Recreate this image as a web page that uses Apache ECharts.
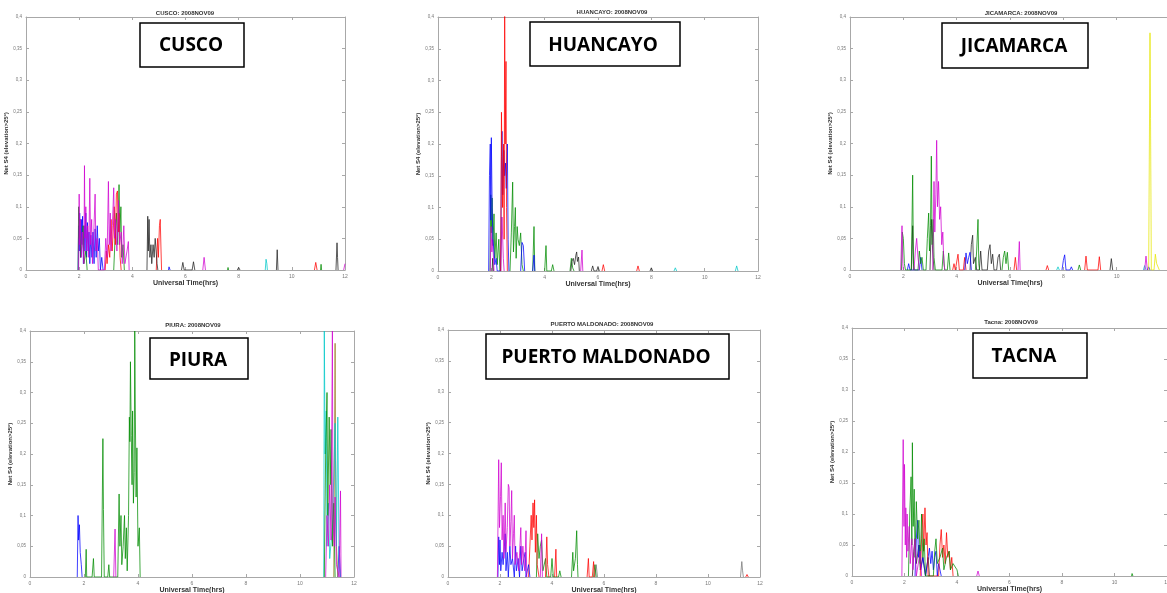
<!DOCTYPE html>
<html><head><meta charset="utf-8">
<script src="https://cdn.jsdelivr.net/npm/echarts@6/dist/echarts.min.js"></script>
<style>html,body{margin:0;padding:0;background:#fff}#c{width:1167px;height:593px}</style>
</head><body><div id="c"></div>
<script>
// ---- tick labels ----
const xTickLabels = ['0','2','4','6','8','10','12'];
const yTickLabels = ['0','0,05','0,1','0,15','0,2','0,25','0,3','0,35','0,4'];
const titles = ['CUSCO: 2008NOV09','HUANCAYO: 2008NOV09','JICAMARCA: 2008NOV09','PIURA: 2008NOV09','PUERTO MALDONADO: 2008NOV09','Tacna: 2008NOV09'];
const stations = ['CUSCO','HUANCAYO','JICAMARCA','PIURA','PUERTO MALDONADO','TACNA'];

// ---- CUSCO [UT hrs, S4] ----
const cuscoBlue = [[1.96,0],[1.98,0.07],[2.0,0.03],[2.02,0.09],[2.05,0.02],[2.08,0.08],[2.1,0.04],[2.13,0.085],[2.16,0.01],[2.19,0.07],[2.22,0.03],[2.25,0.09],[2.28,0.02],[2.31,0.075],[2.34,0.03],[2.37,0.06],[2.4,0.01],[2.44,0.055],[2.48,0.02],[2.52,0.06],[2.56,0.01],[2.6,0.065],[2.64,0.02],[2.68,0.07],[2.72,0.03],[2.76,0.05],[2.8,0],[2.85,0.02],[2.9,0],[5.0,null],[5.36,0],[5.38,0.005],[5.42,0]];
const cuscoMagenta = [[1.98,0],[2.0,0.12],[2.02,0.04],[2.05,0.08],[2.08,0.02],[2.12,0.06],[2.18,0.01],[2.2,0.165],[2.22,0.05],[2.25,0.1],[2.28,0.03],[2.32,0.07],[2.36,0.02],[2.4,0.145],[2.43,0.04],[2.47,0.08],[2.5,0.01],[2.55,0.06],[2.6,0.12],[2.63,0.03],[2.68,0.05],[2.72,0],[2.95,0],[3.0,0.05],[3.05,0.02],[3.1,0.14],[3.13,0.04],[3.17,0.09],[3.2,0.03],[3.25,0.07],[3.3,0.13],[3.33,0.05],[3.37,0.08],[3.42,0.03],[3.48,0.11],[3.52,0.04],[3.58,0.06],[3.62,0.01],[3.68,0.07],[3.72,0.01],[3.8,0.03],[3.85,0.045],[3.88,0],[6.0,null],[6.65,0],[6.7,0.02],[6.72,0.023],[6.75,0],[11.0,null],[11.95,0],[12,0.01]];
const cuscoGreen = [[1.96,0],[1.98,0.1],[2.0,0.05],[2.03,0.08],[2.06,0.02],[2.1,0.04],[2.15,0.07],[2.18,0.01],[2.25,0.03],[2.3,0],[3.0,null],[3.3,0],[3.35,0.05],[3.4,0.09],[3.45,0.04],[3.5,0.135],[3.53,0.06],[3.57,0.1],[3.6,0.02],[3.65,0.04],[3.7,0],[7.0,null],[7.58,0],[7.6,0.004],[7.62,0],[9.0,null],[11.08,0],[11.1,0.009],[11.12,0]];
const cuscoRed = [[2.98,0],[3.02,0.03],[3.05,0.01],[3.1,0.04],[3.15,0.02],[3.2,0.08],[3.24,0.03],[3.28,0.06],[3.32,0.1],[3.36,0.04],[3.4,0.12],[3.44,0.125],[3.47,0.06],[3.5,0.09],[3.54,0.02],[3.58,0],[4.5,null],[4.9,0],[4.95,0.05],[4.98,0.02],[5.02,0.07],[5.05,0.08],[5.08,0.03],[5.1,0],[8,null],[10.85,0],[10.9,0.012],[10.95,0]];
const cuscoBlack = [[4.55,0],[4.58,0.085],[4.6,0.03],[4.63,0.08],[4.66,0.02],[4.7,0.04],[4.73,0.01],[4.78,0.04],[4.82,0.02],[4.86,0.05],[4.9,0.05],[4.93,0.01],[4.96,0],[5.5,null],[5.85,0],[5.9,0.012],[5.95,0],[6.25,0],[6.3,0.013],[6.35,0],[7.5,null],[7.95,0],[8.0,0.004],[8.05,0],[9.0,null],[9.42,0],[9.45,0.032],[9.48,0],[10,null],[11.66,0],[11.7,0.043],[11.72,0.02],[11.74,0]];
const cuscoCyan = [[9.0,0],[9.03,0.017],[9.06,0.01],[9.08,0]];

// ---- HUANCAYO ----
const huancayoRed = [[2.35,0],[2.38,0.25],[2.42,0.1],[2.46,0.2],[2.48,0.05],[2.5,0.42],[2.52,0.2],[2.55,0.33],[2.57,0.1],[2.6,0],[5.0,null],[6.15,0],[6.2,0.01],[6.25,0],[7.0,null],[7.45,0],[7.5,0.008],[7.55,0]];
const huancayoBlue = [[1.9,0],[1.93,0.15],[1.96,0.2],[1.98,0.08],[2.0,0.21],[2.03,0.1],[2.06,0.05],[2.1,0.03],[2.13,0.01],[2.18,0.02],[2.22,0],[2.35,0],[2.38,0.18],[2.4,0.22],[2.43,0.12],[2.47,0.19],[2.5,0.15],[2.53,0.17],[2.56,0.13],[2.6,0.2],[2.63,0.05],[2.66,0],[3.0,null],[3.1,0],[3.15,0.045],[3.2,0.04],[3.25,0],[3.4,null],[3.55,0],[3.6,0.025],[3.63,0]];
const huancayoGreen = [[1.95,0],[1.98,0.12],[2.0,0.06],[2.03,0.115],[2.06,0.04],[2.1,0.09],[2.13,0.02],[2.18,0.06],[2.22,0.01],[2.28,0.05],[2.32,0],[2.5,null],[2.7,0],[2.75,0.06],[2.8,0.14],[2.83,0.03],[2.87,0.07],[2.9,0.1],[2.93,0.02],[2.97,0.07],[3.0,0.05],[3.05,0.04],[3.1,0.06],[3.15,0.01],[3.2,0],[3.4,null],[3.55,0],[3.6,0.07],[3.63,0],[3.8,null],[4.0,0],[4.05,0.04],[4.08,0],[4.25,0],[4.3,0.01],[4.35,0],[4.6,null],[4.95,0],[5.0,0.02],[5.05,0.005],[5.1,0]];
const huancayoMagenta = [[1.96,0],[1.99,0.07],[2.02,0.03],[2.05,0.05],[2.1,0],[2.2,null],[2.35,0],[2.4,0.085],[2.45,0.02],[2.48,0],[4.0,null],[5.35,0],[5.4,0.033],[5.43,0]];
const huancayoBlack = [[2.03,0],[2.05,0.02],[2.08,0],[3.0,null],[4.98,0],[5.02,0.015],[5.07,0.02],[5.12,0.01],[5.17,0.025],[5.2,0.03],[5.23,0.015],[5.27,0.022],[5.3,0],[5.5,null],[5.75,0],[5.8,0.008],[5.85,0],[5.95,0],[6.0,0.007],[6.05,0],[7.0,null],[7.95,0],[8.0,0.005],[8.05,0]];
const huancayoCyan = [[8.85,0],[8.9,0.005],[8.95,0],[10.0,null],[11.15,0],[11.2,0.008],[11.25,0]];

// ---- JICAMARCA ----
const jicamarcaGreen = [[1.93,0],[1.96,0.06],[2.0,0.05],[2.04,0.01],[2.08,0],[2.3,0],[2.35,0.15],[2.38,0.01],[2.42,0],[2.55,0],[2.6,0.03],[2.65,0.01],[2.7,0.02],[2.75,0],[2.85,0],[2.9,0.05],[2.95,0.09],[2.98,0.03],[3.02,0.07],[3.05,0.18],[3.08,0.04],[3.12,0.08],[3.15,0.02],[3.2,0],[3.45,0],[3.5,0.03],[3.55,0],[3.65,0],[3.7,0.027],[3.75,0],[4.0,null],[4.7,0],[4.75,0.03],[4.8,0.08],[4.83,0.01],[4.86,0],[5.2,null],[5.7,0],[5.75,0.02],[5.8,0.03],[5.85,0.01],[5.9,0.028],[5.95,0],[7.0,null],[8.55,0],[8.6,0.008],[8.65,0]];
const jicamarcaMagenta = [[1.9,0],[1.95,0.07],[1.98,0.01],[2.0,0],[2.2,null],[2.4,0],[2.45,0.03],[2.5,0.05],[2.55,0.02],[2.6,0],[2.8,null],[3.1,0],[3.15,0.14],[3.18,0.06],[3.22,0.12],[3.25,0.205],[3.28,0.1],[3.32,0.14],[3.36,0.08],[3.4,0.1],[3.44,0.04],[3.48,0.06],[3.52,0.01],[3.56,0],[5.0,null],[6.3,0],[6.35,0.045],[6.38,0],[8.0,null],[11.05,0],[11.1,0.022],[11.15,0]];
const jicamarcaBlack = [[2.3,0],[2.35,0.07],[2.38,0],[2.6,null],[3.0,0],[3.05,0.08],[3.1,0.03],[3.15,0],[4.0,null],[4.5,0],[4.55,0.04],[4.6,0.055],[4.63,0.01],[4.7,0.02],[4.75,0],[4.85,0],[4.9,0.03],[4.95,0],[5.15,0],[5.2,0.03],[5.25,0.04],[5.3,0.01],[5.35,0.025],[5.4,0],[5.5,0],[5.55,0.02],[5.6,0.025],[5.65,0],[7.0,null],[9.75,0],[9.8,0.018],[9.85,0]];
const jicamarcaRed = [[3.85,0],[3.9,0.01],[3.95,0],[4.0,0],[4.05,0.025],[4.1,0],[4.25,0],[4.3,0.02],[4.35,0],[5.0,null],[6.15,0],[6.2,0.02],[6.25,0],[7.0,null],[7.35,0],[7.4,0.007],[7.45,0],[8.0,null],[8.8,0],[8.85,0.022],[8.9,0],[9.3,0],[9.35,0.021],[9.4,0],[10.0,null],[11.95,0],[12.0,0.005]];
const jicamarcaBlue = [[2.15,0],[2.2,0.01],[2.25,0],[2.6,0],[2.65,0.02],[2.7,0],[3.5,null],[4.3,0],[4.35,0.027],[4.4,0.01],[4.45,0.02],[4.5,0.028],[4.55,0],[6.0,null],[7.95,0],[8.0,0.015],[8.05,0.024],[8.1,0],[8.25,0],[8.3,0.005],[8.35,0],[9.0,null],[11.15,0],[11.2,0.005],[11.25,0]];
const jicamarcaCyan = [[7.75,0],[7.8,0.005],[7.85,0],[9.0,null],[11.0,0],[11.05,0.007],[11.1,0]];
const jicamarcaYellow = [[11.2,0],[11.25,0.375],[11.27,0.24],[11.3,0],[11.4,0],[11.45,0.025],[11.5,0.01],[11.55,0.012],[11.6,0]];

// ---- PIURA ----
const piuraBlue = [[1.75,0],[1.78,0.1],[1.8,0.06],[1.83,0.085],[1.86,0.04],[1.9,0.02],[1.93,0],[5.0,null],[11.4,0],[11.45,0.05],[11.5,0]];
const piuraGreen = [[2.05,0],[2.08,0.045],[2.1,0],[2.3,0],[2.35,0.03],[2.38,0],[2.65,0],[2.7,0.225],[2.72,0.11],[2.75,0],[2.88,0],[2.92,0.02],[2.95,0],[3.25,0],[3.3,0.135],[3.33,0.05],[3.37,0.1],[3.4,0.02],[3.45,0.05],[3.5,0.1],[3.53,0.03],[3.57,0.08],[3.6,0.01],[3.65,0.1],[3.68,0.26],[3.7,0.22],[3.72,0.35],[3.75,0.23],[3.78,0.15],[3.8,0.27],[3.83,0.12],[3.86,0.17],[3.88,0.4],[3.9,0.27],[3.93,0.13],[3.96,0.21],[4.0,0.05],[4.05,0.08],[4.08,0],[6.0,null],[10.9,0],[10.95,0.2],[11.0,0.3],[11.03,0.1],[11.08,0.26],[11.12,0.15],[11.15,0.24],[11.2,0.05],[11.25,0.12],[11.3,0]];
const piuraMagenta = [[3.1,0],[3.15,0.078],[3.18,0],[6.0,null],[10.95,0],[11.0,0.1],[11.05,0.05],[11.1,0.15],[11.15,0.06],[11.2,0.4],[11.22,0.1],[11.27,0.05],[11.3,0.13],[11.35,0.02],[11.45,0],[11.5,0.14],[11.52,0]];
const piuraCyan = [[10.88,0],[10.9,0.4],[10.93,0.2],[10.97,0.27],[11.0,0.05],[11.05,0.12],[11.1,0.03],[11.2,0.08],[11.3,0.25],[11.35,0.05],[11.4,0.26],[11.45,0.02],[11.5,0]];
const piuraOlive = [[11.25,0],[11.3,0.38],[11.32,0.19],[11.35,0.05],[11.4,0]];

// ---- PUERTO MALDONADO ----
const puertoMagenta = [[1.9,0],[1.95,0.19],[1.98,0.08],[2.02,0.13],[2.05,0.185],[2.08,0.06],[2.12,0.1],[2.15,0.03],[2.2,0.12],[2.23,0.04],[2.28,0.08],[2.32,0.15],[2.35,0.145],[2.38,0.05],[2.42,0.09],[2.45,0.14],[2.48,0.03],[2.52,0.07],[2.55,0.1],[2.58,0.02],[2.65,0.04],[2.72,0.01],[2.8,0.08],[2.83,0.02],[2.88,0.05],[2.95,0.01],[3.0,0.075],[3.03,0],[3.3,null],[3.55,0],[3.6,0.07],[3.63,0]];
const puertoBlue = [[1.92,0],[1.95,0.065],[1.98,0.02],[2.0,0.06],[2.03,0.01],[2.08,0.04],[2.12,0.02],[2.17,0.05],[2.2,0.07],[2.23,0.01],[2.28,0.04],[2.32,0],[2.38,0.05],[2.42,0.02],[2.48,0.03],[2.55,0],[2.6,0.05],[2.63,0.01],[2.7,0.03],[2.75,0],[2.8,0.05],[2.85,0.01],[2.92,0.03],[2.97,0.04],[3.0,0],[3.1,0.02],[3.15,0]];
const puertoRed = [[3.1,0],[3.15,0.05],[3.2,0.1],[3.23,0.06],[3.27,0.12],[3.3,0.08],[3.33,0.125],[3.36,0.04],[3.4,0.1],[3.43,0.02],[3.5,0],[3.6,null],[3.75,0],[3.8,0.065],[3.83,0.02],[3.88,0],[4.0,null],[4.1,0],[4.15,0.045],[4.18,0],[5.0,null],[5.35,0],[5.4,0.03],[5.43,0],[5.55,0],[5.6,0.025],[5.63,0],[8.0,null],[11.45,0],[11.5,0.004],[11.55,0]];
const puertoGreen = [[3.4,0],[3.45,0.07],[3.5,0.03],[3.55,0.05],[3.6,0.06],[3.65,0.01],[3.75,0.03],[3.8,0],[3.95,0],[4.0,0.03],[4.05,0],[4.25,0],[4.3,0.01],[4.35,0],[4.5,null],[4.75,0],[4.8,0.04],[4.83,0.01],[4.9,0.03],[4.95,0.075],[4.98,0.02],[5.0,0],[5.3,null],[5.6,0],[5.65,0.02],[5.7,0]];
const puertoGray = [[5.65,0],[5.7,0.02],[5.75,0],[8.0,null],[11.25,0],[11.3,0.025],[11.33,0.01],[11.36,0]];

// ---- TACNA ----
const tacnaMagenta = [[1.9,0],[1.95,0.22],[1.98,0.08],[2.0,0.18],[2.03,0.05],[2.05,0.11],[2.08,0.03],[2.1,0.1],[2.13,0.04],[2.18,0.08],[2.22,0.02],[2.28,0.06],[2.32,0.01],[2.4,0.06],[2.45,0],[2.6,0.04],[2.65,0],[3.5,null],[4.75,0],[4.8,0.008],[4.85,0]];
const tacnaGreen = [[2.15,0],[2.2,0.1],[2.25,0.16],[2.28,0.05],[2.3,0.215],[2.33,0.08],[2.37,0.14],[2.4,0.03],[2.45,0.12],[2.5,0.06],[2.55,0.09],[2.6,0.02],[2.65,0.1],[2.7,0.03],[2.75,0.06],[2.8,0],[3.1,0],[3.15,0.04],[3.2,0.06],[3.25,0.02],[3.35,0.03],[3.45,0.045],[3.5,0.01],[3.6,0.03],[3.7,0.04],[3.75,0.01],[3.85,0.02],[4.0,0.01],[4.05,0],[6.0,null],[10.65,0],[10.67,0.004],[10.7,0]];
const tacnaRed = [[2.6,0],[2.65,0.06],[2.7,0.1],[2.73,0.04],[2.78,0.11],[2.82,0.05],[2.86,0.07],[2.9,0],[3.3,0],[3.35,0.05],[3.4,0.075],[3.45,0.03],[3.5,0.05],[3.55,0.02],[3.6,0.07],[3.65,0.03],[3.7,0.04],[3.75,0.01],[3.8,0.03],[3.85,0]];
const tacnaBlue = [[2.4,0],[2.45,0.06],[2.5,0.09],[2.53,0.03],[2.58,0.05],[2.62,0.01],[2.7,0.03],[2.8,0],[2.9,0.03],[2.95,0.045],[3.0,0.02],[3.05,0.04],[3.1,0.01],[3.15,0.03],[3.2,0.04],[3.25,0],[3.3,0.02],[3.4,0]];
const tacnaBlack = [[2.3,0],[2.35,0.04],[2.4,0.06],[2.45,0.02],[2.55,0.05],[2.6,0.01],[2.7,0.03],[2.8,0],[2.9,0.03],[2.95,0]];

// ---- styles / layout ----
const COL = {blue:'#0000ff', green:'#008c00', red:'#ff0000', magenta:'#d000d0', black:'#222222', gray:'#777777', cyan:'#00c8c8', yellow:'#e6e600', olive:'#9a7a20'};
const panelSeries = [
  [['blue',cuscoBlue],['green',cuscoGreen],['red',cuscoRed],['black',cuscoBlack],['cyan',cuscoCyan],['magenta',cuscoMagenta]],
  [['green',huancayoGreen],['black',huancayoBlack],['cyan',huancayoCyan],['magenta',huancayoMagenta],['blue',huancayoBlue],['red',huancayoRed]],
  [['black',jicamarcaBlack],['red',jicamarcaRed],['blue',jicamarcaBlue],['cyan',jicamarcaCyan],['green',jicamarcaGreen],['magenta',jicamarcaMagenta],['yellow',jicamarcaYellow]],
  [['blue',piuraBlue],['olive',piuraOlive],['cyan',piuraCyan],['green',piuraGreen],['magenta',piuraMagenta]],
  [['gray',puertoGray],['green',puertoGreen],['red',puertoRed],['blue',puertoBlue],['magenta',puertoMagenta]],
  [['black',tacnaBlack],['blue',tacnaBlue],['red',tacnaRed],['green',tacnaGreen],['magenta',tacnaMagenta]]
];
const layout = [
  {g:[26,17,319,253], t:[185,13], box:[140,23,104,44], bt:[191,46]},
  {g:[438,17,320,254], t:[612,12], box:[530,22,150,44], bt:[603,46]},
  {g:[850,17,320,253], t:[1021,13], box:[942,23,146,45], bt:[1014,47]},
  {g:[30,331,324,246], t:[193,325], box:[150,338,98,41], bt:[198,361]},
  {g:[448,330,312,247], t:[602,324], box:[486,334,243,45], bt:[606,358]},
  {g:[852,328,315,248], t:[1011,322], box:[973,333,114,45], bt:[1024,357]}
];

const grid=[], xAxis=[], yAxis=[], series=[], graphic=[];
const axisCol = '#a8a8a8';
layout.forEach((L,i)=>{
  grid.push({left:L.g[0], top:L.g[1], width:L.g[2], height:L.g[3], containLabel:false, outerBoundsMode:'none'});
  const xb = {type:'value', gridIndex:i, min:0, max:12, interval:2,
    axisLine:{show:true, onZero:false, lineStyle:{color:axisCol,width:1}},
    axisTick:{show:true, inside:true, length:3, lineStyle:{color:axisCol}},
    splitLine:{show:false}};
  const yb = {type:'value', gridIndex:i, min:0, max:0.4, interval:0.05,
    axisLine:{show:true, onZero:false, lineStyle:{color:axisCol,width:1}},
    axisTick:{show:true, inside:true, length:3, lineStyle:{color:axisCol}},
    splitLine:{show:false}};
  xAxis.push(Object.assign({}, xb, {position:'bottom',
    axisLabel:{fontSize:5, color:'#777', margin:4, fontFamily:'Liberation Sans', formatter:(v)=>xTickLabels[Math.round(v/2)]},
    name:'Universal Time(hrs)', nameLocation:'middle', nameGap:8,
    nameTextStyle:{fontSize:7, fontWeight:'bold', color:'#333', fontFamily:'Liberation Sans', verticalAlign:'top'}}));
  xAxis.push(Object.assign({}, xb, {position:'top', axisLabel:{show:false}}));
  yAxis.push(Object.assign({}, yb, {position:'left',
    axisLabel:{fontSize:4.5, color:'#777', margin:4, fontFamily:'Liberation Sans', formatter:(v)=>yTickLabels[Math.round(v/0.05)]},
    name:'Net S4 (elevation>25º)', nameLocation:'middle', nameGap:14, nameRotate:90,
    nameTextStyle:{fontSize:6, fontWeight:'bold', color:'#333', fontFamily:'Liberation Sans'}}));
  yAxis.push(Object.assign({}, yb, {position:'right', axisLabel:{show:false}}));
  panelSeries[i].forEach(([c,d])=>{
    series.push({type:'line', xAxisIndex:2*i, yAxisIndex:2*i, data:d, showSymbol:false, symbol:'none',
      clip:true, connectNulls:false, animation:false,
      lineStyle:{width:1, color:COL[c], opacity:0.75}});
  });
  graphic.push({type:'text', x:L.t[0], y:L.t[1], style:{text:titles[i], fontSize:6, fontWeight:'bold', fill:'#333', fontFamily:'Liberation Sans', align:'center', verticalAlign:'middle'}});
  graphic.push({type:'rect', shape:{x:L.box[0], y:L.box[1], width:L.box[2], height:L.box[3]}, style:{fill:'#fff', stroke:'#000', lineWidth:1.5}, z:10});
  graphic.push({type:'text', x:L.bt[0], y:L.bt[1], style:{text:stations[i], fontSize:19, fontWeight:'bold', fill:'#000', fontFamily:'Open Sans', align:'center', verticalAlign:'middle'}, z:11});
});

const chart = echarts.init(document.getElementById('c'), null, {renderer:'canvas'});
chart.setOption({backgroundColor:'#fff', animation:false, grid, xAxis, yAxis, series, graphic});
</script>
</body></html>
